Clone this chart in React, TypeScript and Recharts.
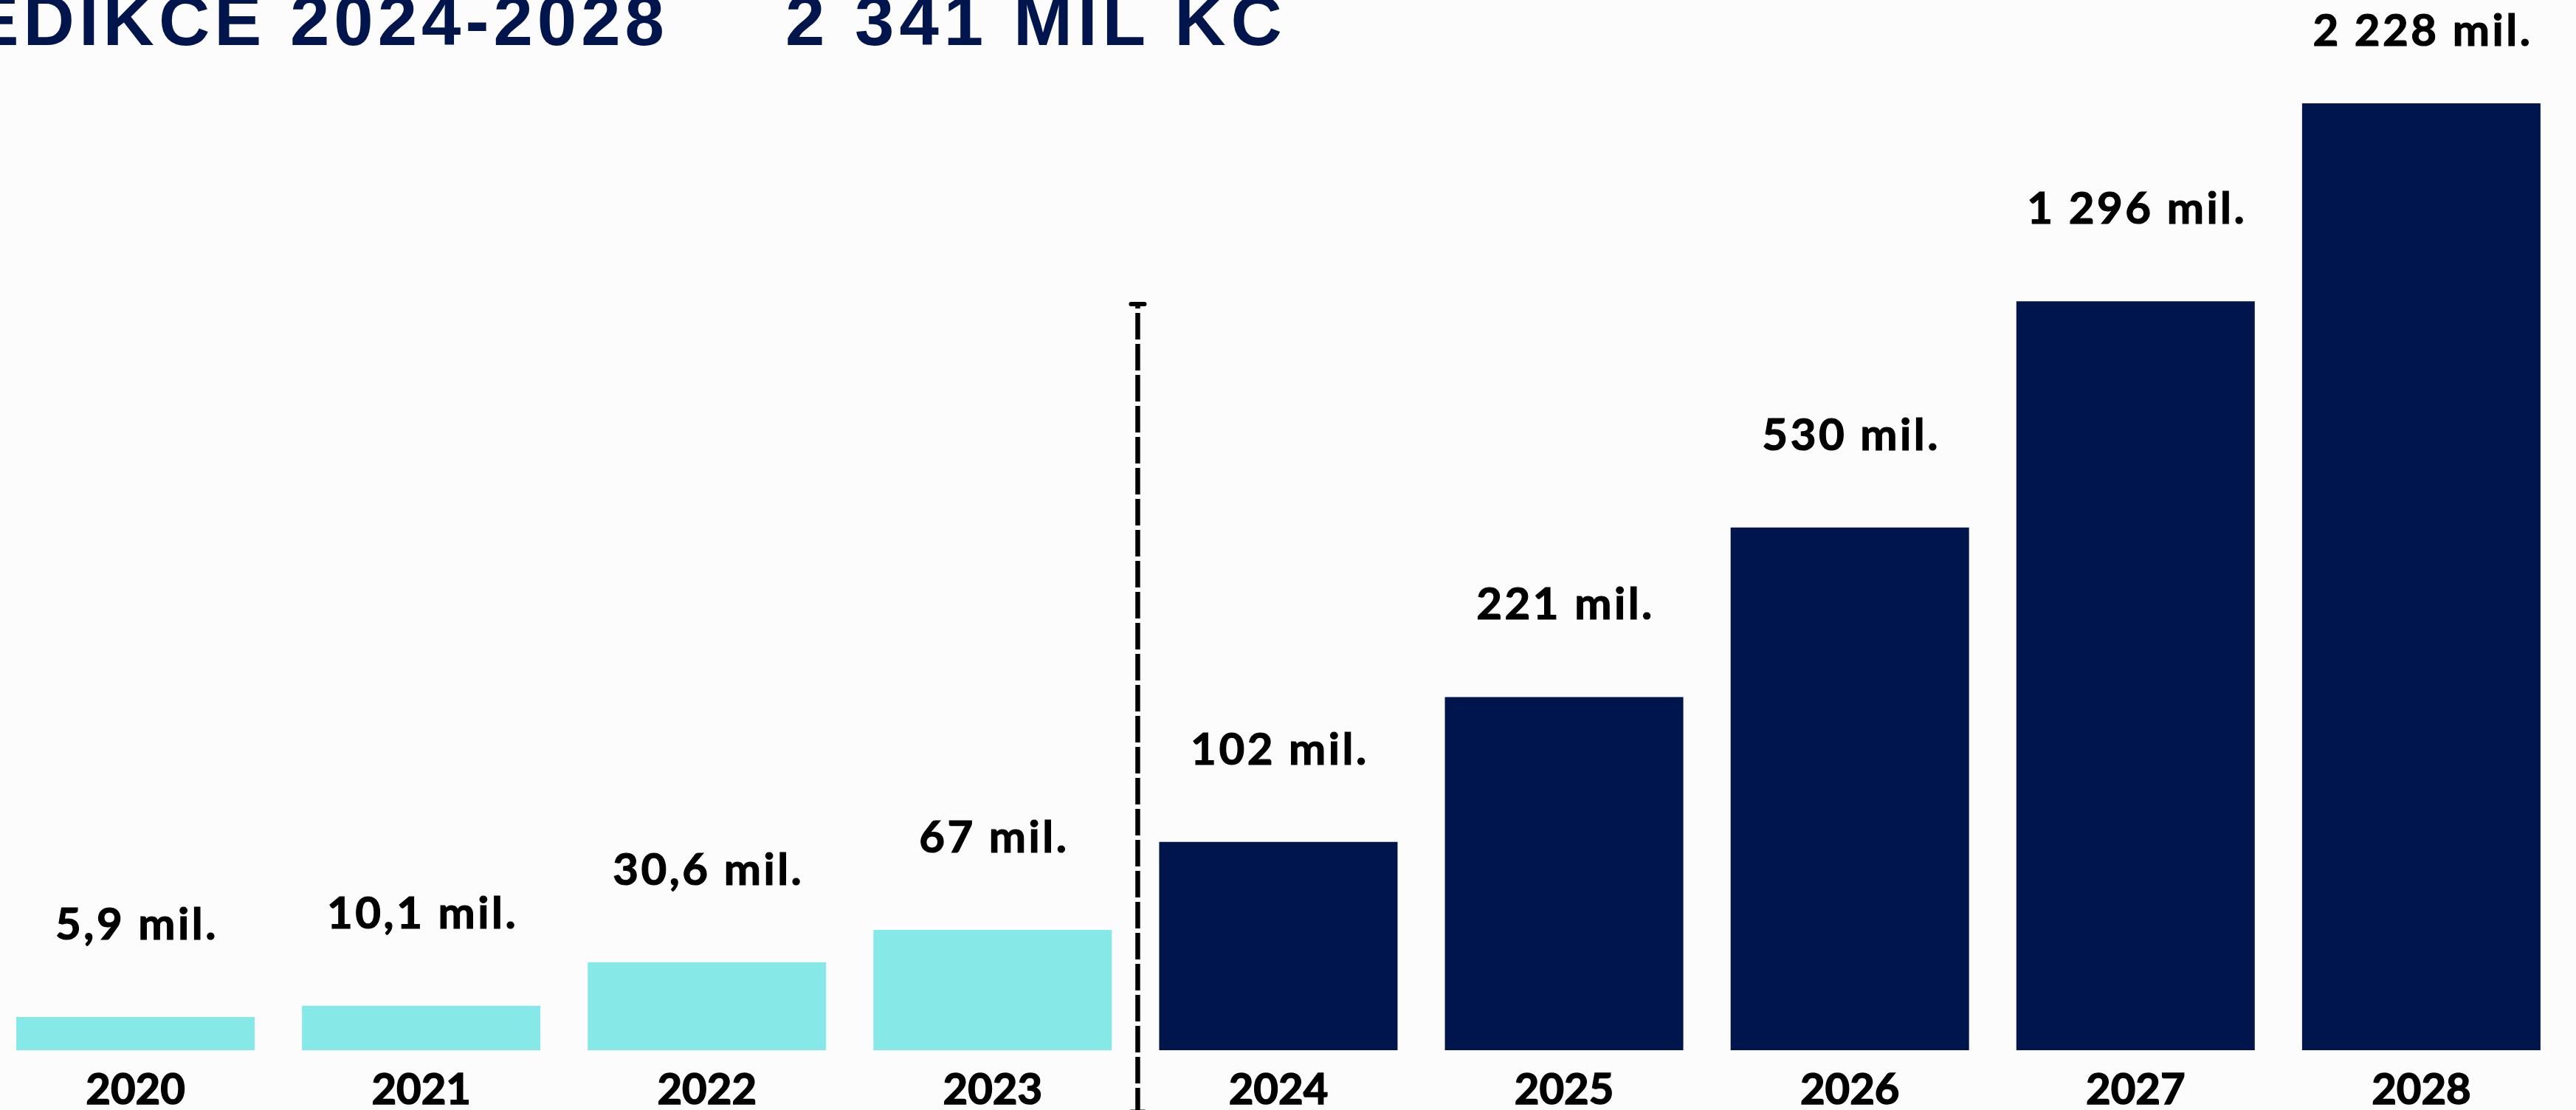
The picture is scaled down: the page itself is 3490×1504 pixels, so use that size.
import React from 'react';
import { BarChart, Bar, XAxis, YAxis, Cell, LabelList, ReferenceLine } from 'recharts';

// ---- data ----
const years = ['2020', '2021', '2022', '2023', '2024', '2025', '2026', '2027', '2028'];
// amounts printed above the bars, in millions of CZK
const amountsMil = [5.9, 10.1, 30.6, 67, 102, 221, 530, 1296, 2228];
// drawn bar lengths as they appear in the picture (relative units, 2028 = 100)
const barHeights = [3.5, 4.7, 9.3, 12.7, 22.0, 37.3, 55.2, 79.1, 100];
const phases = ['actual', 'actual', 'actual', 'actual', 'forecast', 'forecast', 'forecast', 'forecast', 'forecast'];
const titleLeft = 'PREDIKCE 2024-2028';
const titleRight = '2 341 MIL KČ';
const labelSuffix = ' mil.';
// divider before the first forecast year (relative heights)
const dividerYear = '2024';
const dividerTop = 78.8;
const dividerBottom = -6.5;

const NAVY = '#00154B';
const CYAN = '#87E9E7';
const BG = '#FCFCFC';
const LABEL_FONT = 'Lato, "Open Sans", sans-serif';
const TITLE_FONT = '"Liberation Sans", Arial, sans-serif';

function formatCz(v: number): string {
  const [intPart, dec] = String(v).split('.');
  const grouped = intPart.replace(/\B(?=(\d{3})+(?!\d))/g, ' ');
  return dec ? `${grouped},${dec}` : grouped;
}

const data = years.map((year, i) => ({
  year,
  height: barHeights[i],
  label: formatCz(amountsMil[i]) + labelSuffix,
  phase: phases[i],
}));

const LABEL_GAP = 105;
const LABEL_MIN_BASELINE = 62;

const ValueLabel = (p: any) => {
  const { x, y, width, value } = p;
  return (
    <text
      x={Number(x) + Number(width) / 2 + 2}
      y={Math.max(Number(y) - LABEL_GAP, LABEL_MIN_BASELINE)}
      textAnchor="middle"
      fontFamily={LABEL_FONT}
      fontWeight={700}
      fontSize={60}
      letterSpacing={3.5}
      fill="#000"
      stroke="#000"
      strokeWidth={1.2}
    >
      {value}
    </text>
  );
};

const YearTick = (p: any) => {
  const { x, y, payload } = p;
  return (
    <text
      x={x}
      y={Number(y) + 73}
      textAnchor="middle"
      fontFamily={LABEL_FONT}
      fontWeight={700}
      fontSize={58}
      fill="#000"
      stroke="#000"
      strokeWidth={1.5}
    >
      {payload.value}
    </text>
  );
};

const DividerShape = (p: any) => {
  const { x1, y1, x2, y2 } = p;
  const top = Math.min(y1, y2);
  const bottom = Math.max(y1, y2);
  const x = (Number(x1) + Number(x2)) / 2 + 3;
  return (
    <g>
      <line x1={x} y1={top} x2={x} y2={bottom} stroke="#000" strokeWidth={6.5} strokeDasharray="36 6" strokeDashoffset={30} />
      <line x1={x - 9} y1={top} x2={x + 9} y2={top} stroke="#000" strokeWidth={6} strokeLinecap="round" />
      <line x1={x - 9} y1={bottom} x2={x + 9} y2={bottom} stroke="#000" strokeWidth={6} strokeLinecap="round" />
    </g>
  );
};

export default function App() {
  return (
    <div style={{ position: 'relative', width: 3490, height: 1504, overflow: 'hidden', background: BG }}>
      <style>{'html,body{margin:0;padding:0;overflow:hidden;background:' + BG + ';}'}</style>
      <svg width={3490} height={1504} style={{ position: 'absolute', left: 0, top: 0 }}>
        <text x={906} y={61} textAnchor="end" fontFamily={TITLE_FONT} fontWeight={700} fontSize={96} letterSpacing={6} fill={NAVY}>
          {titleLeft}
        </text>
        <text x={1064} y={61} textAnchor="start" fontFamily={TITLE_FONT} fontWeight={700} fontSize={96} letterSpacing={7} fill={NAVY}>
          {titleRight}
        </text>
      </svg>
      <div style={{ position: 'absolute', left: -10, top: 0 }}>
        <BarChart width={3484} height={1504} data={data} margin={{ top: 140, right: 0, bottom: 21, left: 0 }} barSize={323}>
          <XAxis
            dataKey="year"
            xAxisId="cat"
            axisLine={false}
            tickLine={false}
            tickSize={0}
            tickMargin={0}
            height={60}
            interval={0}
            tick={<YearTick />}
          />
          <YAxis yAxisId="v" domain={[0, 100]} allowDataOverflow hide />
          <Bar dataKey="height" xAxisId="cat" yAxisId="v" isAnimationActive={false}>
            {data.map((d, i) => (
              <Cell key={i} fill={d.phase === 'actual' ? CYAN : NAVY} />
            ))}
            <LabelList dataKey="label" content={<ValueLabel />} />
          </Bar>
          <ReferenceLine
            xAxisId="cat"
            yAxisId="v"
            position="start"
            segment={[
              { x: dividerYear, y: dividerTop },
              { x: dividerYear, y: dividerBottom },
            ]}
            ifOverflow="visible"
            shape={DividerShape}
          />
        </BarChart>
      </div>
    </div>
  );
}
